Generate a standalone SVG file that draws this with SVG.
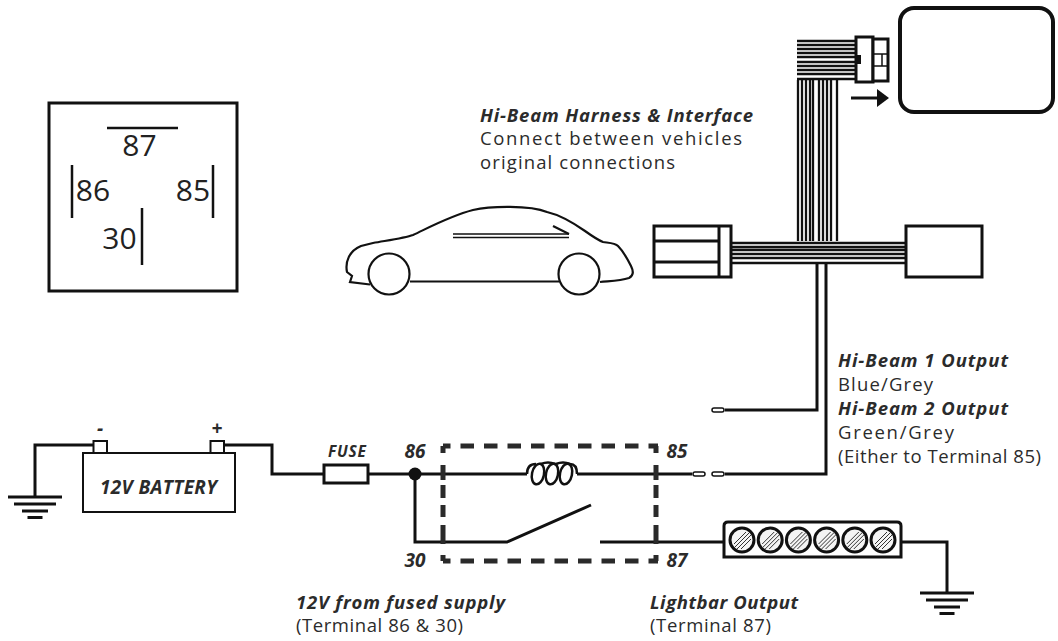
<svg xmlns="http://www.w3.org/2000/svg" width="1058" height="641" viewBox="0 0 1058 641">
<style>
.w{fill:none;stroke:#111;stroke-width:3;stroke-linejoin:miter}
.b{fill:#fff;stroke:#111;stroke-width:3}
.t{font-family:"Open Sans","Lato",sans-serif;fill:#2b2b2b}
.h{font-size:18.500px;font-weight:700;font-style:italic}
.r{font-size:18.500px}
.n{font-size:19px;font-weight:700;font-style:italic}
.rl{font-family:"Open Sans",sans-serif;font-size:30px;fill:#222;text-anchor:middle}
.g{stroke:#111;stroke-width:3;fill:none}
.thin{stroke:#111;stroke-width:2.200;fill:none}
.hat{stroke:#333;stroke-width:1;fill:none}
.d{fill:none;stroke:#2a2a2a;stroke-width:5}
.dh{stroke-dasharray:13.500 10;stroke-dashoffset:6}
.dv{stroke-dasharray:7 12 15 5 13 7 12 8 19 11 6 0}
</style>
<defs>
<g id="led"><circle r="12" fill="#f4f4f4" stroke="#111" stroke-width="3"/><path class="hat" d="M-8 4L4-8M-8 8L8-8M-5 9L9-5M-1 9L9-1"/></g>
<g id="gnd"><path class="g" d="M-27 0H27M-21 7H21M-13 14H13M-7.500 20.500H7.500"/></g>
</defs>

<g id="connectors">
<path class="w" d="M817 263V410H725"/>
<path class="w" d="M826 263V474H725"/>
<path class="w" d="M93 445H35V497"/>
<path class="w" d="M224 445H272V474H324"/>
<path class="w" d="M368 474H527"/>
<path class="w" d="M577 474H692"/>
<path class="w" d="M415 474V542H507L591 505"/>
<path class="w" d="M600 542H724"/>
<path class="w" d="M901 542H947V593"/>
</g>

<g id="relay-pinout">
<rect x="49" y="103" width="188" height="188" fill="#fff" stroke="#111" stroke-width="3"/>
<path d="M107 128H178M72 165V218M213 165V218M142 208V265" fill="none" stroke="#111" stroke-width="2.500"/>
<text class="rl" x="139.500" y="156">87</text>
<text class="rl" x="93" y="201">86</text>
<text class="rl" x="193" y="201">85</text>
<text class="rl" x="119.500" y="249">30</text>
</g>

<g id="car">
<path class="thin" d="M370 284.500L350 282L352 276L347 272C345 262 349 251 361 246L373 243C390 240 405 238 413 235C430 227 450 216 473 210C490 206 530 205 547 212C560 215 575 224 585 231C592 236 598 240 603 242C610 243 615 243 618 246C624 252 628 260 631 266C634 272 633 276 629 278C620 281 610 281 600 282M410 281.500H559"/>
<circle class="thin" cx="389" cy="274" r="20.500"/>
<circle class="thin" cx="579" cy="274" r="20.500"/>
<path class="thin" d="M453 234H569M453 237.500H569" style="stroke-width:1.500"/>
<path class="thin" d="M553 226L569 234"/>
</g>

<g id="top-label">
<text class="t h" x="480" y="122" textLength="273">Hi-Beam Harness &amp; Interface</text>
<text class="t r" x="480" y="145" textLength="262">Connect between vehicles</text>
<text class="t r" x="480" y="169" textLength="195">original connections</text>
</g>

<g id="harness">
<g stroke="#111" stroke-width="2.300" fill="none">
<path d="M797 41H856M797 45H856M797 49H856M797 53H856M797 57H856M797 62H856M797 66H856M797 70H856M797 74H856M797 79H856"/>
<path d="M798 80V241M802 80V241M806 80V241M810 80V241M813 80V241M819 80V241M823 80V241M827 80V241M831 80V241M837 80V241"/>
<path d="M731 243H906M731 247H906M731 250H906M731 254H906M731 258H906M731 263H906"/>
</g>
</g>

<g id="top-connector">
<rect class="b" x="856" y="37" width="17" height="45"/>
<rect class="b" x="873" y="39" width="15" height="42"/>
<path d="M873 54H888M873 66H888M882 54V66" stroke="#111" stroke-width="1.500" fill="none"/>
<rect x="857" y="55" width="4" height="9" fill="#111"/>
</g>
<path id="arrow" d="M851 98H878" stroke="#111" stroke-width="3" fill="none"/>
<path d="M877 89L889 98L877 107Z" fill="#111"/>
<g id="module"><rect x="900" y="8" width="153" height="104" rx="14" fill="#fff" stroke="#111" stroke-width="4"/></g>

<g id="left-connector">
<rect class="b" x="654" y="226" width="77" height="51"/>
<path d="M654 241H719M654 262H719M719 226V277" stroke="#111" stroke-width="3" fill="none"/>
</g>
<g id="right-box"><rect class="b" x="906" y="226" width="76" height="51"/></g>

<g id="hb-label">
<text class="t h" x="838" y="367" textLength="170">Hi-Beam 1 Output</text>
<text class="t r" x="838" y="391" textLength="95">Blue/Grey</text>
<text class="t h" x="838" y="415" textLength="170">Hi-Beam 2 Output</text>
<text class="t r" x="838" y="439" textLength="116">Green/Grey</text>
<text class="t r" x="838" y="463" textLength="203">(Either to Terminal 85)</text>
</g>
<rect x="712" y="408" width="12" height="4" rx="2" fill="#fff" stroke="#111" stroke-width="1.500"/>

<g id="ground-left"><use href="#gnd" x="35" y="497"/></g>
<g id="battery">
<rect x="83" y="453" width="152" height="59" fill="#fff" stroke="#111" stroke-width="2"/>
<rect x="93.500" y="441" width="13.500" height="12" fill="#fff" stroke="#111" stroke-width="2"/>
<rect x="210.500" y="441" width="13.500" height="12" fill="#fff" stroke="#111" stroke-width="2"/>
<text class="t n" x="100" y="435" text-anchor="middle">-</text>
<text class="t n" x="217" y="435" text-anchor="middle">+</text>
<text class="t n" x="100" y="494" textLength="117">12V BATTERY</text>
</g>

<g id="fuse">
<rect class="b" x="324" y="465" width="44" height="18"/>
<text class="t" x="328" y="457" textLength="38" font-size="15.500" font-weight="700" font-style="italic">FUSE</text>
</g>
<g id="node-86"><circle cx="415" cy="474" r="6.500" fill="#111"/></g>

<g id="relay">
<path class="d dh" d="M443 446H658M443 561H658"/>
<path class="d dv" d="M443 446V561M656 446V561"/>
<path d="M527 474Q527 464 536 464M541 464Q548 461 555 464M556 464Q563 461 570 464M570 464Q577 464 577 474" fill="none" stroke="#111" stroke-width="2.500"/>
<g fill="none" stroke="#111" stroke-width="2.500">
<ellipse cx="538" cy="474" rx="6" ry="10.500" transform="rotate(12 538 474)"/>
<ellipse cx="552" cy="474" rx="6" ry="10.500" transform="rotate(12 552 474)"/>
<ellipse cx="566" cy="474" rx="6" ry="10.500" transform="rotate(12 566 474)"/>
</g>
<text class="t n" x="415" y="458" text-anchor="middle">86</text>
<text class="t n" x="677" y="458" text-anchor="middle">85</text>
<text class="t n" x="415" y="567" text-anchor="middle">30</text>
<text class="t n" x="677" y="567" text-anchor="middle">87</text>
<rect x="693" y="472" width="12" height="4" rx="2" fill="#fff" stroke="#111" stroke-width="1.500"/>
<rect x="712" y="472" width="12" height="4" rx="2" fill="#fff" stroke="#111" stroke-width="1.500"/>
</g>

<g id="lightbar">
<path d="M724 557V526Q724 522 728 522H897Q901 522 901 526V557Z" fill="#fff" stroke="#111" stroke-width="3"/>
<use href="#led" x="742" y="540"/><use href="#led" x="770.200" y="540"/><use href="#led" x="798.400" y="540"/><use href="#led" x="826.600" y="540"/><use href="#led" x="854.800" y="540"/><use href="#led" x="883" y="540"/>
</g>
<g id="ground-right"><use href="#gnd" x="947" y="593"/></g>

<g id="bottom-labels">
<text class="t h" x="296" y="609" textLength="209">12V from fused supply</text>
<text class="t r" x="296" y="632" textLength="167">(Terminal 86 &amp; 30)</text>
<text class="t h" x="650" y="609" textLength="148">Lightbar Output</text>
<text class="t r" x="650" y="632" textLength="121">(Terminal 87)</text>
</g>
</svg>
